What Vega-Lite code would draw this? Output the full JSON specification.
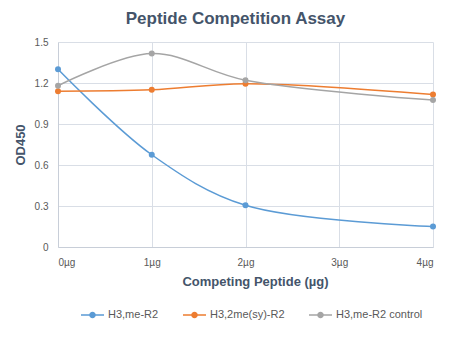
{
  "$schema": "https://vega.github.io/schema/vega-lite/v6.json",
  "autosize": "none",
  "width": 375,
  "height": 205,
  "padding": {"left": 58, "top": 42, "right": 39, "bottom": 104},
  "background": "white",
  "title": {
    "text": "Peptide Competition Assay",
    "font": "Liberation Sans",
    "fontSize": 17,
    "fontWeight": "bold",
    "color": "#44546A",
    "anchor": "middle",
    "dx": -10,
    "offset": 9
  },
  "data": {
    "values": [
      {"x": 0, "y": 1.30, "series": "H3,me-R2"},
      {"x": 1, "y": 0.675, "series": "H3,me-R2"},
      {"x": 2, "y": 0.305, "series": "H3,me-R2"},
      {"x": 4, "y": 0.15, "series": "H3,me-R2"},
      {"x": 0, "y": 1.14, "series": "H3,2me(sy)-R2"},
      {"x": 1, "y": 1.15, "series": "H3,2me(sy)-R2"},
      {"x": 2, "y": 1.195, "series": "H3,2me(sy)-R2"},
      {"x": 4, "y": 1.115, "series": "H3,2me(sy)-R2"},
      {"x": 0, "y": 1.18, "series": "H3,me-R2 control"},
      {"x": 1, "y": 1.415, "series": "H3,me-R2 control"},
      {"x": 2, "y": 1.22, "series": "H3,me-R2 control"},
      {"x": 4, "y": 1.075, "series": "H3,me-R2 control"}
    ]
  },
  "mark": {
    "type": "line",
    "interpolate": "catmull-rom",
    "strokeWidth": 1.5,
    "point": {"filled": true, "size": 36, "opacity": 1}
  },
  "encoding": {
    "x": {
      "field": "x",
      "type": "quantitative",
      "scale": {"domain": [0, 4], "nice": false, "zero": false},
      "axis": {
        "values": [0, 1, 2, 3, 4],
        "labelExpr": "datum.value + 'µg'",
        "title": "Competing Peptide (µg)",
        "titleX": 197,
        "titlePadding": 8
      }
    },
    "y": {
      "field": "y",
      "type": "quantitative",
      "scale": {"domain": [0, 1.5], "nice": false},
      "axis": {
        "values": [0, 0.3, 0.6, 0.9, 1.2, 1.5],
        "labelExpr": "datum.value == 0 ? '0' : format(datum.value, '.1f')",
        "title": "OD450",
        "titlePadding": 7
      }
    },
    "color": {
      "field": "series",
      "type": "nominal",
      "scale": {
        "domain": ["H3,me-R2", "H3,2me(sy)-R2", "H3,me-R2 control"],
        "range": ["#5B9BD5", "#ED7D31", "#A5A5A5"]
      },
      "legend": {
        "title": null,
        "orient": "none",
        "direction": "horizontal",
        "legendX": 22,
        "legendY": 260,
        "symbolType": "M-1,0L1,0M-0.22,0A0.22,0.22,0,1,1,0.22,0A0.22,0.22,0,1,1,-0.22,0Z",
        "symbolSize": 530,
        "symbolStrokeWidth": 1.5,
        "labelOffset": 3,
        "columnPadding": 20,
        "labelFont": "Liberation Sans",
        "labelFontSize": 11,
        "labelColor": "#595959",
        "encode": {
          "symbols": {
            "update": {
              "fill": {"scale": "color", "field": "value"},
              "stroke": {"scale": "color", "field": "value"},
              "opacity": {"value": 1}
            }
          }
        }
      }
    }
  },
  "config": {
    "view": {"stroke": null},
    "axis": {
      "labelFont": "Liberation Sans",
      "labelFontSize": 10,
      "labelColor": "#595959",
      "titleFont": "Liberation Sans",
      "titleFontSize": 13,
      "titleFontWeight": "bold",
      "titleColor": "#44546A",
      "gridColor": "#D9DEE6",
      "gridWidth": 1,
      "domainColor": "#C8CED8",
      "ticks": false,
      "labelPadding": 10
    }
  }
}
